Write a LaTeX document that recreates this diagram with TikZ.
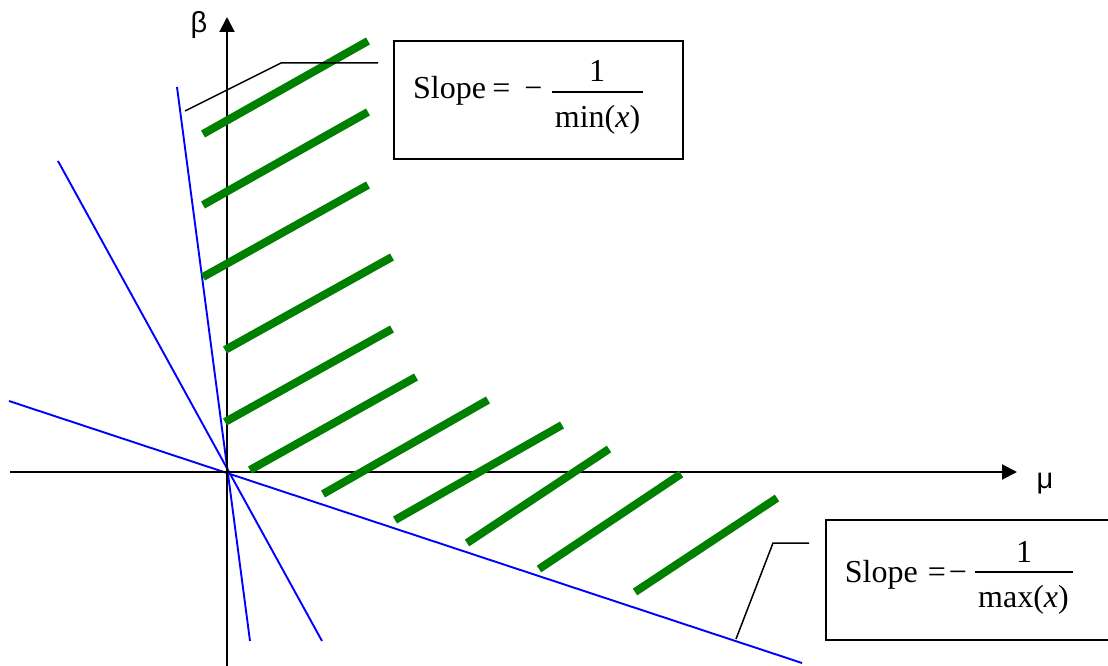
\documentclass[tikz,border=0pt]{standalone}
\usepackage{fontspec}
\setmainfont{Liberation Serif}
\newfontfamily\sansf{Liberation Sans}
\usetikzlibrary{arrows.meta}
\definecolor{hatch}{RGB}{0,128,0}
\definecolor{ray}{RGB}{0,0,255}
\begin{document}
\begin{tikzpicture}[x=1pt,y=-1pt,
  axis/.style={line width=2pt,-{Triangle[length=15pt,width=15pt]}},
  hatchline/.style={hatch,line width=8pt},
  rayline/.style={ray,line width=1.9pt},
  leader/.style={line width=1.5pt},
  callout/.style={draw,line width=2pt,anchor=north west,inner sep=0pt},
  eqtext/.style={font=\fontsize{32}{38}\selectfont,inner sep=0pt},
  fracbar/.style={line width=1.4pt},
  axlabel/.style={font=\sansf\fontsize{29}{33}\selectfont,inner sep=0pt}]
\useasboundingbox (0,0) rectangle (1108,666);
\begin{scope}
\clip (0,0) rectangle (1108,666);
% rays through origin
\coordinate (r1a) at (177,87);  \coordinate (r1b) at (250,641);
\coordinate (r2a) at (58,161);  \coordinate (r2b) at (322,641);
\coordinate (r3a) at (9,401);   \coordinate (r3b) at (802,663);
\draw[rayline] (r1a) -- (r1b);
\draw[rayline] (r2a) -- (r2b);
\draw[rayline] (r3a) -- (r3b);
% axes
\coordinate (xs) at (10,472); \coordinate (xe) at (1017,472);
\coordinate (ys) at (227,666); \coordinate (ye) at (227,17);
\draw[axis] (xs) -- (xe);
\draw[axis] (ys) -- (ye);
\node[axlabel,anchor=base] (beta) at (199,33) {β};
\node[axlabel,anchor=base] (mu) at (1045,488) {μ};
% hatch segments
\foreach \ax/\ay/\bx/\by in {203/134/368/41, 203/205/368/112, 203/277/368/185,
  225/350/392/257, 225/422/392/329, 250/470/416/377, 323/494/488/400,
  395/520/562/425, 467/543/609/449, 539/569/681/474, 635/592/777/498}
  \draw[hatchline] (\ax,\ay) -- (\bx,\by);
% callout 1
\node[callout,minimum width=289pt,minimum height=118pt] (box1) at (393,40) {};
\coordinate (l1a) at (185,111); \coordinate (l1b) at (281,63); \coordinate (l1c) at (378,63);
\draw[leader] (l1a) -- (l1b) -- (l1c);
\node[eqtext,anchor=base west] (s1) at (413,99) {Slope};
\node[eqtext,anchor=base] (eq1) at (501.5,99) {=};
\node[eqtext,anchor=base] (mi1) at (533.5,99) {−};
\node[eqtext,anchor=base] (n1) at (597,82) {1};
\node[eqtext,anchor=base] (d1) at (597.5,128) {min(\textit{x})};
\coordinate (f1a) at (552,92); \coordinate (f1b) at (643,92);
\draw[fracbar] (f1a) -- (f1b);
% callout 2
\node[callout,minimum width=300pt,minimum height=120pt] (box2) at (825,519) {};
\coordinate (l2a) at (736,639); \coordinate (l2b) at (773,543); \coordinate (l2c) at (809,543);
\draw[leader] (l2a) -- (l2b) -- (l2c);
\node[eqtext,anchor=base west] (s2) at (844.7,582) {Slope};
\node[eqtext,anchor=base] (eq2) at (937,582) {=};
\node[eqtext,anchor=base] (mi2) at (958,582) {−};
\node[eqtext,anchor=base] (n2) at (1024,562) {1};
\node[eqtext,anchor=base] (d2) at (1023.5,607) {max(\textit{x})};
\coordinate (f2a) at (975,572); \coordinate (f2b) at (1073,572);
\draw[fracbar] (f2a) -- (f2b);
\end{scope}
\end{tikzpicture}
\end{document}
